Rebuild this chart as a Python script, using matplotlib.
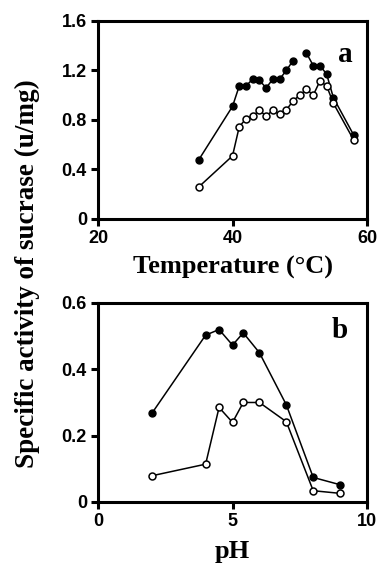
import numpy as np
import matplotlib
matplotlib.use("Agg")
import matplotlib.pyplot as plt

# panel a: temperature
temp_filled = [35, 40, 41, 42, 43, 44, 45, 46, 47, 48, 49, 50, 51, 52, 53, 54, 55, 58]
act_filled = [0.48, 0.91, 1.075, 1.075, 1.13, 1.12, 1.06, 1.13, 1.13, 1.20, 1.28, np.nan,
              1.34, 1.24, 1.24, 1.17, 0.98, 0.68]
temp_open = [35, 40, 41, 42, 43, 44, 45, 46, 47, 48, 49, 50, 51, 52, 53, 54, 55, 58]
act_open = [0.26, 0.51, 0.745, 0.81, 0.83, 0.88, 0.83, 0.88, 0.845, 0.88, 0.955, 1.00,
            1.05, 1.00, 1.115, 1.075, 0.935, 0.64]

# panel b: pH
ph = [2, 4, 4.5, 5, 5.4, 6, 7, 8, 9]
ph_filled = [0.267, 0.503, 0.52, 0.473, 0.51, 0.45, 0.293, 0.074, 0.052]
ph_open = [0.079, 0.114, 0.285, 0.24, 0.30, 0.30, 0.242, 0.034, 0.026]

serif = "Liberation Serif"
sans = "Liberation Sans"

fig = plt.figure(figsize=(3.79, 5.66), dpi=100)
ax1 = fig.add_axes([0.2586, 0.6131, 0.7098, 0.3498])
ax2 = fig.add_axes([0.2586, 0.1131, 0.7098, 0.3516])


def style(ax):
    for s in ax.spines.values():
        s.set_linewidth(2.2)
    ax.tick_params(direction="out", length=5, width=2.2, labelsize=13, pad=3)
    for lab in ax.get_xticklabels() + ax.get_yticklabels():
        lab.set_fontfamily(sans)
        lab.set_fontweight("bold")


ax1.plot(temp_filled, act_filled, "-o", color="black", lw=1.1, ms=5,
         mfc="black", mec="black")
ax1.plot(temp_open, act_open, "-o", color="black", lw=1.1, ms=5,
         mfc="white", mec="black", mew=1.1)
ax1.set_xlim(20, 60)
ax1.set_ylim(0, 1.6)
ax1.set_xticks([20, 40, 60])
ax1.set_yticks([0, 0.4, 0.8, 1.2, 1.6])
ax1.set_yticklabels(["0", "0.4", "0.8", "1.2", "1.6"])
style(ax1)
ax1.set_xlabel("Temperature (\u00b0C)", fontfamily=serif, fontweight="bold",
               fontsize=19, labelpad=6)
ax1.text(0.92, 0.83, "a", transform=ax1.transAxes, fontfamily=serif,
         fontweight="bold", fontsize=21, ha="center", va="center")

ax2.plot(ph, ph_filled, "-o", color="black", lw=1.1, ms=5,
         mfc="black", mec="black")
ax2.plot(ph, ph_open, "-o", color="black", lw=1.1, ms=5,
         mfc="white", mec="black", mew=1.1)
ax2.set_xlim(0, 10)
ax2.set_ylim(0, 0.6)
ax2.set_xticks([0, 5, 10])
ax2.set_yticks([0, 0.2, 0.4, 0.6])
ax2.set_yticklabels(["0", "0.2", "0.4", "0.6"])
style(ax2)
ax2.set_xlabel("pH", fontfamily=serif, fontweight="bold", fontsize=19, labelpad=7)
ax2.text(0.90, 0.86, "b", transform=ax2.transAxes, fontfamily=serif,
         fontweight="bold", fontsize=21, ha="center", va="center")

fig.text(0.072, 1 - 274 / 566, "Specific activity of sucrase (u/mg)",
         rotation=90, ha="center", va="center", fontfamily=serif,
         fontweight="bold", fontsize=19.5)

fig.savefig("out.png", dpi=100)
